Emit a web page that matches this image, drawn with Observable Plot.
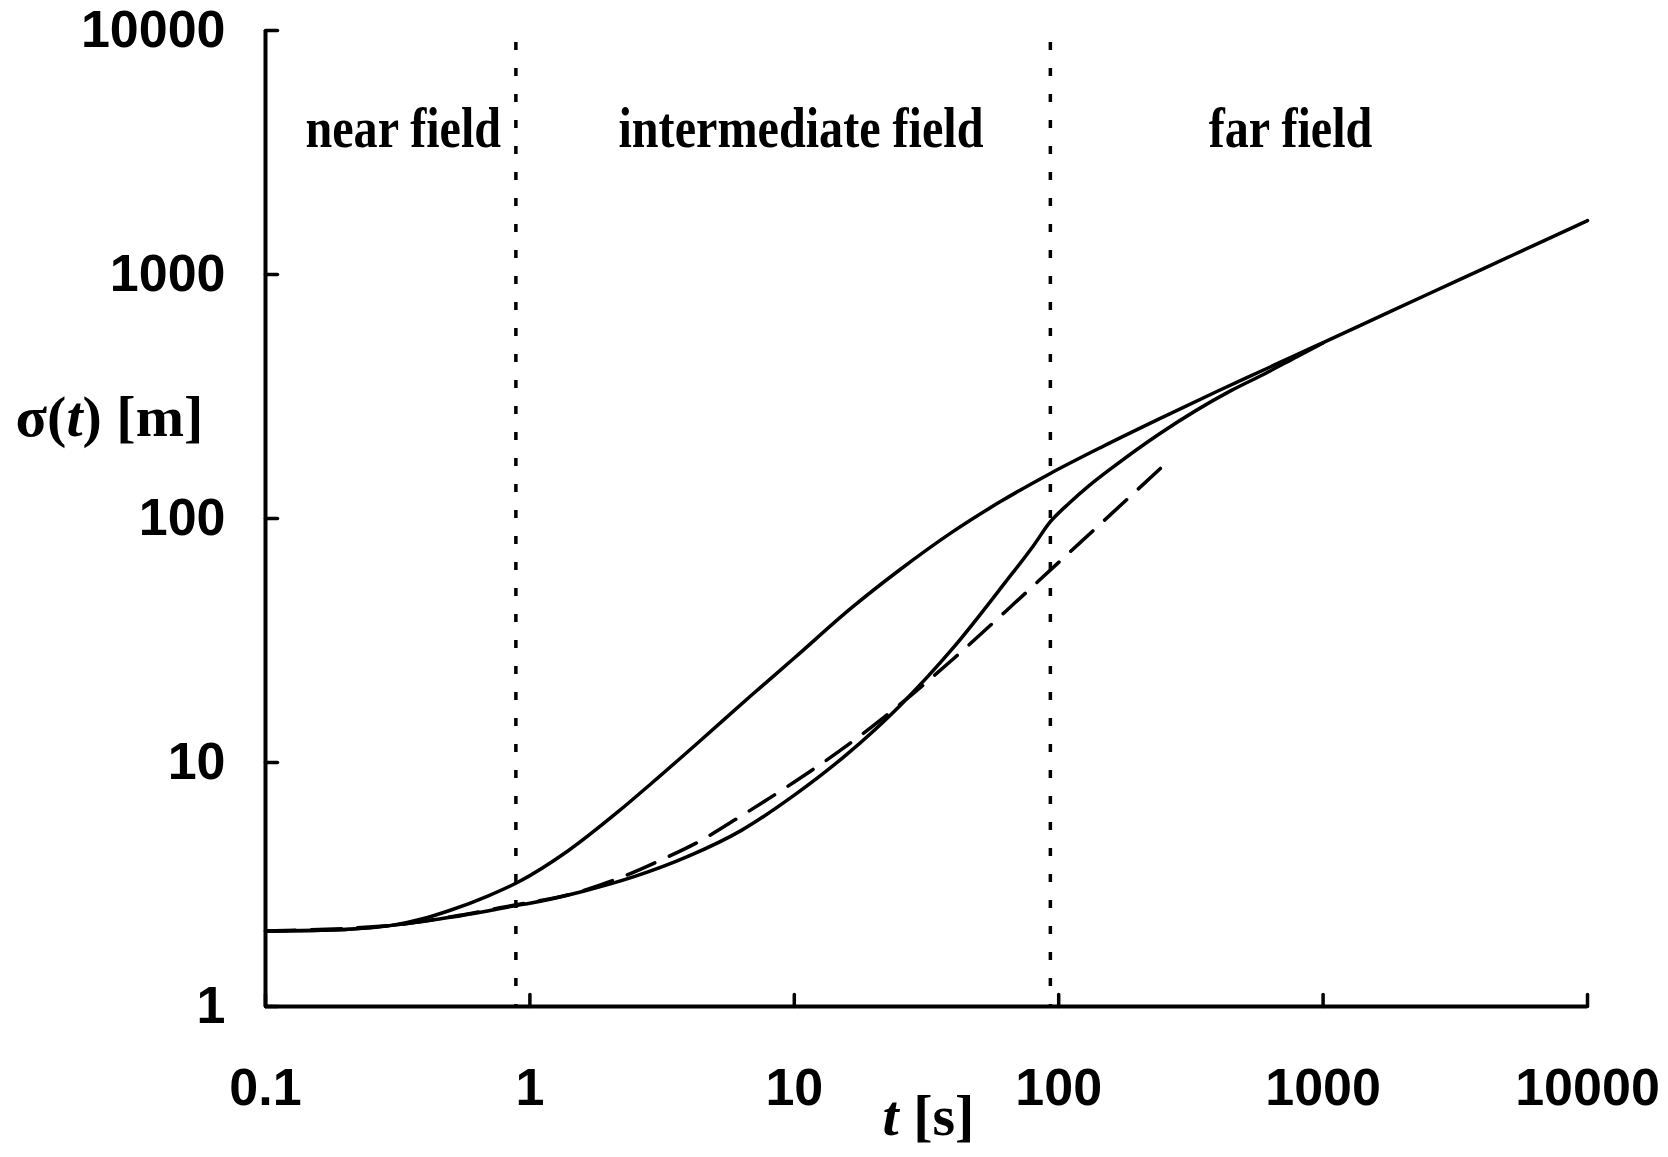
<!DOCTYPE html>
<html>
<head>
<meta charset="utf-8">
<script src="https://cdn.jsdelivr.net/npm/d3@7"></script>
<script src="https://cdn.jsdelivr.net/npm/@observablehq/plot@0.6"></script>
<style>
  body { margin: 0; background: #fff; }
  svg { display: block; }
</style>
</head>
<body>
<div id="chart"></div>
<script>
// ---- data ----
const xTicks = [0.1, 1, 10, 100, 1000, 10000];
const yTicks = [1, 10, 100, 1000, 10000];
const boundaries = [0.885, 93];
const regionNames = ["near field", "intermediate field", "far field"];
const regionLabelT = [0.332, 10.6, 753];
const regionLabelSigma = [3960, 3960, 3960];

const upperT     = [0.1, 0.2, 0.3, 0.4, 0.5, 0.7, 0.9, 1.4, 2.15, 2.9, 4.45, 6.9, 10, 16.4, 25, 39.4, 60, 93, 145, 240, 400, 610, 800, 1000, 1550, 2500, 3950, 6300, 10000];
const upperSigma = [2.04, 2.07, 2.15, 2.3, 2.48, 2.85, 3.23, 4.36, 6.27, 8.26, 12.4, 18.9, 26.8, 42.9, 61.5, 87.7, 117, 153, 196, 256, 333, 411, 471, 526, 655, 832, 1045, 1320, 1663];

const lowerT     = [0.1, 0.2, 0.3, 0.4, 0.5, 0.7, 0.9, 1, 1.58, 2.51, 3.98, 6.31, 10, 15.8, 25.1, 39.8, 63.1, 80, 93, 110, 130, 160, 240, 450, 610, 800, 1000];
const lowerSigma = [2.04, 2.07, 2.15, 2.24, 2.32, 2.47, 2.6, 2.65, 2.96, 3.42, 4.13, 5.27, 7.35, 10.8, 17.1, 29.4, 55.1, 77, 97, 116, 136, 162, 222, 335, 395, 462, 524];

const dashedT     = [0.1, 0.3, 0.5, 0.9, 1.4, 2.3, 3.3, 4.2, 6.31, 10, 15.85, 25.1, 39.8, 63.1, 100, 158.5, 255];
const dashedSigma = [2.04, 2.15, 2.33, 2.62, 2.87, 3.44, 4.09, 4.64, 6.05, 8.32, 11.75, 17.3, 26.5, 41.7, 66.1, 104.7, 168.7];

const xTitle = "t [s]";
const yTitle = "σ(t) [m]";

// ---- build tables ----
const toRows = (ts, ss) => ts.map((t, i) => ({t, s: ss[i]}));
const upper = toRows(upperT, upperSigma);
const lower = toRows(lowerT, lowerSigma);
const dashed = toRows(dashedT, dashedSigma);
const regions = regionNames.map((name, i) => ({name, t: regionLabelT[i], s: regionLabelSigma[i]}));

const tickShape = {draw(context, l) { context.moveTo(0, 0); context.lineTo(0, -l); }};
const tickFont = {fontFamily: "Liberation Sans, Arial, sans-serif", fontWeight: "bold", fontSize: 52};
const serifFont = {fontFamily: "Liberation Serif, Times New Roman, serif", fontWeight: "bold"};

const chart = Plot.plot({
  width: 1668,
  height: 1157,
  marginLeft: 265,
  marginRight: 81,
  marginTop: 30,
  marginBottom: 151,
  style: {background: "#fff", color: "#000"},
  x: {type: "log", domain: [0.1, 10000]},
  y: {type: "log", domain: [1, 10000]},
  marks: [
    Plot.axisX(xTicks, {tickSize: 0, tickPadding: 62, tickFormat: d => String(d), label: null, ...tickFont}),
    Plot.axisY(yTicks, {tickSize: 0, tickPadding: 40, tickFormat: d => String(d), label: null, ...tickFont}),
    Plot.vector(xTicks, {x: d => d, frameAnchor: "bottom", length: 12, anchor: "start", shape: tickShape, stroke: "#000", strokeWidth: 3.5}),
    Plot.vector(yTicks, {y: d => d, frameAnchor: "left", length: 12, rotate: 90, anchor: "start", shape: tickShape, stroke: "#000", strokeWidth: 3.5}),
    Plot.ruleX(boundaries, {stroke: "#000", strokeWidth: 3.5, strokeDasharray: "8,18", insetTop: 12}),
    Plot.ruleX([0.1], {stroke: "#000", strokeWidth: 4}),
    Plot.ruleY([1], {stroke: "#000", strokeWidth: 4}),
    Plot.line(lower, {x: "t", y: "s", stroke: "#000", strokeWidth: 3.5, curve: "monotone-x"}),
    Plot.line(dashed, {x: "t", y: "s", stroke: "#000", strokeWidth: 3.5, strokeDasharray: "30,16", curve: "monotone-x"}),
    Plot.line(upper, {x: "t", y: "s", stroke: "#000", strokeWidth: 3.5, curve: "monotone-x"}),
    Plot.text(regions, {x: "t", y: "s", text: "name", fontSize: 56, fill: "#000", ...serifFont}),
    Plot.text([yTitle], {text: d => d, frameAnchor: "top-left", dx: -250, dy: 364, textAnchor: "start", fontSize: 58, fill: "#000", ...serifFont}),
    Plot.text([xTitle], {text: d => d, frameAnchor: "bottom", dx: 2, dy: 128, fontSize: 58, fill: "#000", ...serifFont})
  ]
});

document.getElementById("chart").append(chart);

const pick = strings => d3.select(chart).selectAll("text").filter(function() {
  return strings.includes(this.textContent);
});

// condense the region labels a little, as in the scanned original
pick(regionNames).each(function() {
  const w = this.getComputedTextLength();
  this.setAttribute("textLength", (w * 0.86).toFixed(1));
  this.setAttribute("lengthAdjust", "spacingAndGlyphs");
});

// italic variable letters in the axis titles
function styleTitle(title, parts) {
  pick([title]).each(function() {
    const el = d3.select(this);
    el.text(null);
    parts.forEach(([s, italic]) => el.append("tspan").text(s).style("font-style", italic ? "italic" : "normal"));
  });
}
styleTitle(yTitle, [["σ", false], ["(", false], ["t", true], [") [m]", false]]);
styleTitle(xTitle, [["t", true], [" [s]", false]]);
</script>
</body>
</html>
